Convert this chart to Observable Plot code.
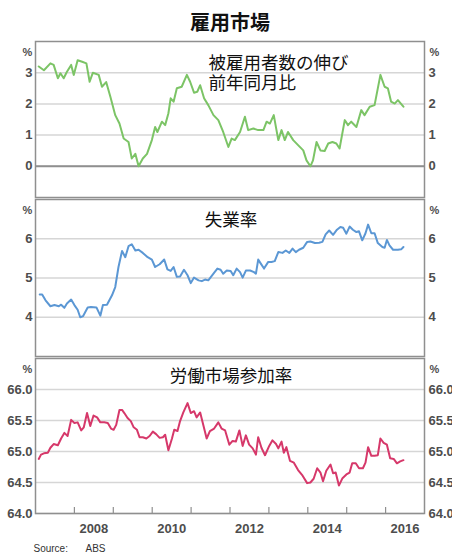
<!DOCTYPE html>
<html><head><meta charset="utf-8">
<script src="https://cdn.jsdelivr.net/npm/d3@7"></script>
<script src="https://cdn.jsdelivr.net/npm/@observablehq/plot@0.6"></script>
<style>
body{margin:0;background:#fff;width:452px;height:552px;overflow:hidden;font-family:"Liberation Sans",Arial,sans-serif}
#title{height:33px;box-sizing:border-box;padding-top:12px;line-height:20px;font-size:20px;font-weight:bold;text-align:center;padding-left:8px;font-family:"Noto Sans CJK JP",sans-serif;color:#111}
#chart svg{display:block}
</style></head><body>
<div id="title">雇用市場</div>
<div id="chart"></div>
<script>
// x values: months since January 2007
const startYear = 2007;
const yearTicks = [2008, 2009, 2010, 2011, 2012, 2013, 2014, 2015, 2016];
const yearLabels = [2008, 2010, 2012, 2014, 2016];

const employmentGrowth = [[1,3.2],[2.6,3.08],[4.6,3.3],[5.6,3.25],[6.9,2.82],[7.7,2.98],[8.7,2.82],[9.7,3.03],[11.0,3.25],[11.8,2.93],[13.0,3.4],[14.4,3.35],[15.7,3.3],[16.7,2.71],[17.7,3.0],[19.5,2.93],[20.5,2.55],[21.8,2.7],[23.1,2.23],[24.6,1.64],[25.9,1.37],[27.2,0.89],[28.7,0.78],[29.7,0.25],[30.8,0.4],[31.8,0.0],[33.1,0.25],[34.4,0.4],[35.9,0.84],[36.9,1.26],[37.6,1.1],[39.0,1.43],[40.0,1.32],[41.0,1.7],[41.7,2.18],[42.6,2.07],[43.6,2.5],[45.1,2.55],[46.7,2.93],[47.7,2.71],[48.9,2.36],[49.9,2.39],[50.8,2.6],[52.0,2.18],[53.3,1.96],[54.9,1.64],[56.4,1.48],[57.9,1.1],[59.5,0.62],[60.5,0.89],[61.5,0.84],[63.1,1.1],[64.6,1.59],[65.6,1.16],[67.2,1.21],[68.7,1.16],[70.3,1.16],[71.3,1.43],[72.3,1.37],[73.5,1.64],[74.9,0.84],[75.9,1.16],[76.9,0.84],[77.9,1.1],[79.5,0.84],[81.0,0.68],[82.6,0.51],[83.6,0.19],[84.8,0.0],[85.6,0.19],[86.7,0.78],[87.9,0.51],[89.2,0.49],[90.3,0.73],[91.6,0.78],[92.8,0.73],[93.8,0.57],[95.4,1.48],[96.4,1.32],[97.4,1.43],[99.0,1.26],[100.5,1.8],[101.5,1.64],[103.1,1.91],[104.6,1.96],[106.4,2.93],[107.7,2.55],[108.7,2.5],[109.7,2.07],[110.8,2.01],[111.8,2.12],[113.5,1.91]];

const unemploymentRate = [[1.3,4.58],[2.05,4.58],[3.1,4.43],[4.6,4.28],[5.85,4.31],[7.2,4.28],[7.9,4.32],[8.9,4.24],[9.7,4.35],[11.0,4.45],[12.0,4.31],[13.0,4.19],[13.8,4.0],[14.7,4.03],[16.1,4.25],[17.1,4.26],[18.8,4.25],[20.0,4.04],[20.8,4.31],[22.05,4.32],[23.6,4.56],[24.6,4.77],[25.6,5.28],[26.7,5.69],[27.7,5.53],[28.7,5.81],[29.7,5.86],[30.8,5.7],[31.8,5.72],[33.1,5.64],[34.6,5.53],[35.9,5.47],[36.9,5.28],[38.3,5.35],[39.7,5.47],[40.7,5.22],[41.7,5.18],[42.6,5.28],[43.6,5.03],[44.6,5.04],[45.8,5.21],[46.9,5.07],[47.9,4.87],[48.9,5.01],[50.3,4.94],[51.3,4.92],[52.3,4.96],[53.3,4.94],[54.9,5.11],[56.1,5.24],[57.1,5.21],[57.9,5.11],[59.0,5.19],[60.2,5.18],[61.0,5.07],[62.05,5.24],[63.1,5.15],[63.9,5.01],[64.9,5.19],[66.2,5.19],[67.4,5.15],[68.0,5.11],[68.7,5.47],[69.4,5.38],[70.5,5.24],[71.8,5.41],[72.8,5.41],[73.8,5.43],[74.9,5.66],[76.2,5.64],[77.2,5.7],[78.3,5.64],[79.3,5.75],[80.3,5.66],[81.3,5.72],[82.6,5.77],[83.8,5.92],[84.8,5.93],[86.2,5.89],[87.5,5.9],[88.5,5.92],[89.5,6.11],[90.6,6.21],[91.8,6.1],[93.0,6.23],[94.05,6.3],[94.9,6.28],[95.9,6.13],[96.9,6.31],[97.9,6.23],[99.0,6.17],[99.8,6.19],[100.8,5.96],[101.8,6.14],[102.6,6.36],[103.6,6.14],[104.6,6.14],[105.6,5.89],[107.0,5.79],[107.7,5.77],[108.4,5.97],[109.2,5.83],[110.3,5.72],[111.8,5.72],[112.8,5.73],[113.5,5.79]];

const participationRate = [[1.0,64.88],[1.7,64.95],[2.6,64.97],[3.8,64.98],[4.6,65.06],[5.6,65.12],[6.9,65.10],[7.9,65.21],[8.9,65.30],[9.9,65.25],[11.0,65.51],[12.0,65.46],[13.0,65.47],[14.1,65.34],[14.9,65.39],[15.9,65.62],[16.9,65.41],[17.9,65.58],[19.0,65.55],[20.0,65.47],[21.2,65.47],[22.3,65.46],[23.3,65.37],[24.1,65.35],[24.9,65.43],[25.9,65.67],[26.7,65.67],[27.4,65.62],[28.4,65.54],[29.4,65.49],[30.3,65.39],[31.3,65.35],[32.1,65.23],[33.1,65.23],[34.2,65.21],[35.2,65.25],[36.2,65.32],[37.2,65.28],[38.3,65.22],[39.3,65.23],[40.0,65.27],[41.0,65.02],[42.1,65.21],[42.8,65.35],[43.8,65.33],[44.6,65.49],[45.6,65.63],[46.9,65.78],[47.9,65.62],[48.9,65.65],[49.7,65.55],[50.8,65.63],[51.8,65.42],[52.8,65.21],[53.8,65.33],[55.1,65.37],[56.4,65.47],[57.4,65.37],[58.5,65.34],[59.8,65.11],[60.8,65.17],[61.8,65.16],[62.9,65.34],[63.9,65.09],[64.9,65.26],[65.9,65.11],[67.0,65.05],[68.0,64.95],[68.7,65.23],[69.7,65.06],[70.8,64.94],[72.1,65.09],[73.1,65.18],[74.2,65.12],[74.9,65.05],[75.9,65.16],[76.6,64.98],[77.4,65.07],[78.5,64.85],[79.7,64.82],[81.0,64.70],[82.4,64.61],[83.8,64.49],[84.8,64.50],[85.8,64.56],[86.9,64.73],[87.9,64.66],[88.7,64.52],[89.7,64.69],[91.0,64.79],[91.8,64.65],[92.6,64.66],[93.6,64.45],[94.7,64.57],[95.9,64.63],[96.9,64.66],[97.7,64.81],[98.8,64.81],[99.8,64.73],[101.0,64.73],[101.8,64.82],[102.6,65.07],[103.6,64.93],[104.6,64.93],[105.6,64.94],[106.4,65.21],[107.4,65.14],[108.4,65.11],[109.4,64.89],[110.5,64.88],[111.5,64.81],[112.5,64.84],[113.5,64.86]];

const panels = [
  {data: employmentGrowth, color: "#7cc466", domain: [-1, 4], ticks: [0, 1, 2, 3], fmt: d => d,
   labels: [{t: "被雇用者数の伸び\n前年同月比", dx: 173, dy: 31, anchor: "start"}],
   mt: 8, frameH: 156, mb: 1, zero: true},
  {data: unemploymentRate, color: "#5b97d4", domain: [3, 7], ticks: [4, 5, 6], fmt: d => d,
   labels: [{t: "失業率", dx: 1, dy: 20, anchor: "middle"}],
   mt: 1, frameH: 157, mb: 1},
  {data: participationRate, color: "#d6386a", domain: [64, 66.5], ticks: [64, 64.5, 65, 65.5, 66], fmt: d3.format(".1f"),
   labels: [{t: "労働市場参加率", dx: 1, dy: 17, anchor: "middle"}],
   mt: 1, frameH: 155, mb: 39, xaxis: true}
];

const axisStyle = {fontSize: 13, fontWeight: "bold", fill: "#4d4d4d"};
const cjk = "Noto Sans CJK JP";
const chart = document.getElementById("chart");

for (const p of panels) {
  const marks = [
    Plot.gridY(p.ticks, {stroke: "#d6d6d6", strokeOpacity: 1, strokeWidth: 1.5}),
    Plot.axisY(p.ticks, {anchor: "left", tickSize: 0, tickPadding: 3, tickFormat: p.fmt, ...axisStyle}),
    Plot.axisY(p.ticks, {anchor: "right", tickSize: 0, tickPadding: 4, tickFormat: p.fmt, ...axisStyle}),
    Plot.text(["%"], {frameAnchor: "top-left", dx: -8, dy: 7, text: d => d, textAnchor: "middle", fontSize: 11, fontWeight: "bold", fill: "#4d4d4d"}),
    Plot.text(["%"], {frameAnchor: "top-right", dx: 10, dy: 7, text: d => d, textAnchor: "middle", fontSize: 11, fontWeight: "bold", fill: "#4d4d4d"}),
  ];
  if (p.zero) marks.push(Plot.ruleY([0], {stroke: "#8f8f8f", strokeWidth: 2}));
  marks.push(Plot.line(p.data, {x: d => startYear + d[0] / 12, y: d => d[1], stroke: p.color, strokeWidth: 2}));
  for (const l of p.labels) {
    marks.push(Plot.text([l.t], {frameAnchor: l.anchor === "start" ? "top-left" : "top", dx: l.dx, dy: l.dy, text: d => d,
      textAnchor: l.anchor, lineAnchor: "middle", lineHeight: 1.17, fontSize: 17.5, fontFamily: cjk, fill: "#111"}));
  }
  if (p.xaxis) {
    marks.push(Plot.tickX(yearTicks, {x: d => d, stroke: "#8f8f8f", strokeWidth: 1.2, insetTop: p.frameH - 6}));
    marks.push(Plot.axisX(yearLabels.map(y => y + 0.5), {anchor: "bottom", tickSize: 0, tickPadding: 10, tickFormat: d => String(Math.floor(d)), ...axisStyle}));
    marks.push(Plot.text(["Source:"], {frameAnchor: "bottom-left", dx: -2, dy: 38, text: d => d, textAnchor: "start", fontSize: 10, fill: "#333"}));
    marks.push(Plot.text(["ABS"], {frameAnchor: "bottom-left", dx: 50, dy: 38, text: d => d, textAnchor: "start", fontSize: 10, fill: "#333"}));
  }
  marks.push(Plot.frame({stroke: "#8f8f8f", strokeWidth: 1.5}));
  const svg = Plot.plot({
    width: 452,
    height: p.mt + p.frameH + p.mb,
    marginLeft: 35, marginRight: 28, marginTop: p.mt, marginBottom: p.mb,
    x: {domain: [2007, 2017], axis: null},
    y: {domain: p.domain, axis: null},
    style: {fontFamily: "'Liberation Sans', Arial, sans-serif", background: "transparent", overflow: "visible"},
    marks
  });
  chart.appendChild(svg);
}
</script>
</body></html>
